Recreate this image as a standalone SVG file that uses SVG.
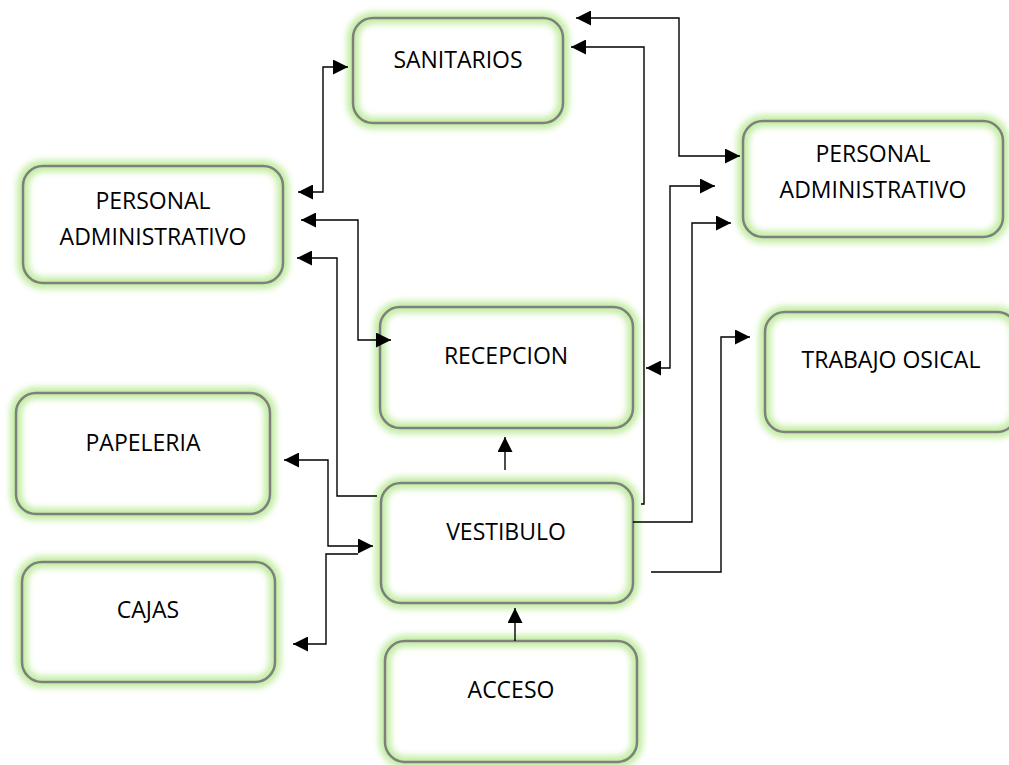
<svg xmlns="http://www.w3.org/2000/svg" width="1009" height="765" viewBox="0 0 1009 765">
<style>
.bg{fill:#ffffff;stroke:none}
.glow{fill:none;stroke:#c2eda3;stroke-width:12;filter:url(#blur)}
.box{fill:none;stroke:#7f7f7f;stroke-width:2.5}
.lbl{font-family:"Open Sans","Noto Sans","Liberation Sans",sans-serif;font-size:23px;fill:#000;text-anchor:middle}
.c{fill:none;stroke:#000;stroke-width:1.4}
</style>
<defs>
<filter id="blur" x="-20%" y="-30%" width="140%" height="160%"><feGaussianBlur stdDeviation="3.2"/></filter>
<marker id="ah" markerUnits="userSpaceOnUse" markerWidth="15" markerHeight="15" refX="15" refY="7.5" orient="auto-start-reverse" viewBox="0 0 15 15">
<path d="M0,0 L15,7.5 L0,15 z" fill="#000"/>
</marker>
</defs>
<rect width="1009" height="765" fill="#fff"/>

<g id="sanitarios">
<rect class="bg" x="353" y="18" width="210" height="105" rx="20"/>
<rect class="glow" x="353" y="18" width="210" height="105" rx="20"/>
<rect class="box" x="353" y="18" width="210" height="105" rx="20"/>
<text class="lbl" x="458" y="68">SANITARIOS</text>
</g>

<g id="personal-administrativo-izq">
<rect class="bg" x="23" y="166" width="260" height="117" rx="20"/>
<rect class="glow" x="23" y="166" width="260" height="117" rx="20"/>
<rect class="box" x="23" y="166" width="260" height="117" rx="20"/>
<text class="lbl" x="153" y="209">PERSONAL</text>
<text class="lbl" x="153" y="245">ADMINISTRATIVO</text>
</g>

<g id="personal-administrativo-der">
<rect class="bg" x="743" y="121" width="260" height="116" rx="20"/>
<rect class="glow" x="743" y="121" width="260" height="116" rx="20"/>
<rect class="box" x="743" y="121" width="260" height="116" rx="20"/>
<text class="lbl" x="873" y="162">PERSONAL</text>
<text class="lbl" x="873" y="198">ADMINISTRATIVO</text>
</g>

<g id="recepcion">
<rect class="bg" x="380" y="307" width="253" height="121" rx="20"/>
<rect class="glow" x="380" y="307" width="253" height="121" rx="20"/>
<rect class="box" x="380" y="307" width="253" height="121" rx="20"/>
<text class="lbl" x="506" y="364">RECEPCION</text>
</g>

<g id="trabajo-osical">
<rect class="bg" x="765" y="312" width="252" height="120" rx="20"/>
<rect class="glow" x="765" y="312" width="252" height="120" rx="20"/>
<rect class="box" x="765" y="312" width="252" height="120" rx="20"/>
<text class="lbl" x="891" y="368">TRABAJO OSICAL</text>
</g>

<g id="papeleria">
<rect class="bg" x="16" y="393" width="254" height="121" rx="20"/>
<rect class="glow" x="16" y="393" width="254" height="121" rx="20"/>
<rect class="box" x="16" y="393" width="254" height="121" rx="20"/>
<text class="lbl" x="143" y="451">PAPELERIA</text>
</g>

<g id="vestibulo">
<rect class="bg" x="381" y="483" width="252" height="120" rx="20"/>
<rect class="glow" x="381" y="483" width="252" height="120" rx="20"/>
<rect class="box" x="381" y="483" width="252" height="120" rx="20"/>
<text class="lbl" x="506" y="540">VESTIBULO</text>
</g>

<g id="cajas">
<rect class="bg" x="22" y="562" width="253" height="120" rx="20"/>
<rect class="glow" x="22" y="562" width="253" height="120" rx="20"/>
<rect class="box" x="22" y="562" width="253" height="120" rx="20"/>
<text class="lbl" x="148" y="618">CAJAS</text>
</g>

<g id="acceso">
<rect class="bg" x="385" y="641" width="252" height="121" rx="20"/>
<rect class="glow" x="385" y="641" width="252" height="121" rx="20"/>
<rect class="box" x="385" y="641" width="252" height="121" rx="20"/>
<text class="lbl" x="511" y="698">ACCESO</text>
</g>

<g id="connectors">
<path class="c" d="M576,18 L679,18 L679,156 L740,156" marker-start="url(#ah)" marker-end="url(#ah)"/>
<path class="c" d="M641,504 L644,504 L644,47 L571,47" marker-end="url(#ah)"/>
<path class="c" d="M298,192 L323,192 L323,67 L348,67" marker-start="url(#ah)" marker-end="url(#ah)"/>
<path class="c" d="M301,220 L358,220 L358,340 L391,340" marker-start="url(#ah)" marker-end="url(#ah)"/>
<path class="c" d="M377,496 L337,496 L337,258 L297,258" marker-end="url(#ah)"/>
<path class="c" d="M646,368 L670,368 L670,186 L715,186" marker-start="url(#ah)" marker-end="url(#ah)"/>
<path class="c" d="M633,522 L692,522 L692,223 L731,223" marker-end="url(#ah)"/>
<path class="c" d="M651,572 L721,572 L721,337 L750,337" marker-end="url(#ah)"/>
<path class="c" d="M505,470 L505,437" marker-end="url(#ah)"/>
<path class="c" d="M515,641 L515,608" marker-end="url(#ah)"/>
<path class="c" d="M284,460 L328,460 L328,546 L373,546" marker-start="url(#ah)" marker-end="url(#ah)"/>
<path class="c" d="M358,554 L326,554 L326,644 L293,644" marker-end="url(#ah)"/>
</g>
</svg>
